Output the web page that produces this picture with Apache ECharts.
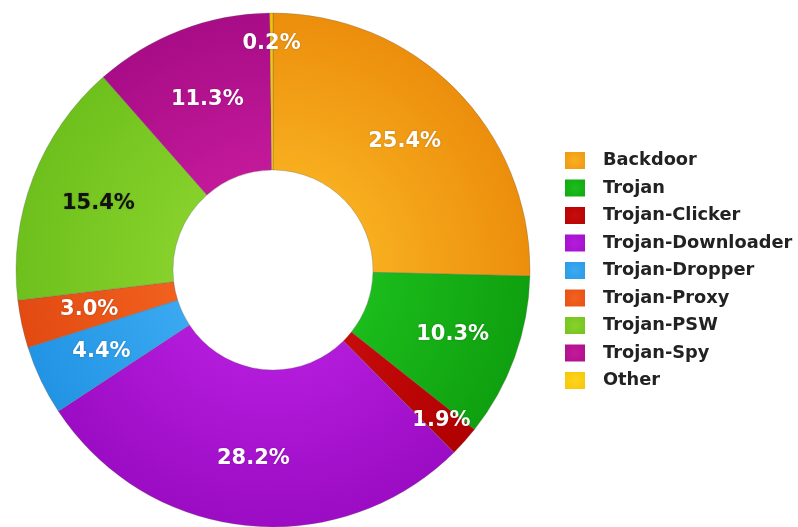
<!DOCTYPE html>
<html>
<head>
<meta charset="utf-8">
<script src="https://cdn.jsdelivr.net/npm/echarts@6/dist/echarts.min.js"></script>
<style>
  html, body { margin: 0; padding: 0; background: #ffffff; }
  #chart { width: 798px; height: 527px; }
</style>
</head>
<body>
<div id="chart"></div>
<script>
// Share of malicious program families (%)
const categories = ['Backdoor', 'Trojan', 'Trojan-Clicker', 'Trojan-Downloader',
  'Trojan-Dropper', 'Trojan-Proxy', 'Trojan-PSW', 'Trojan-Spy', 'Other'];
const shares = [25.4, 10.3, 1.9, 28.2, 4.4, 3.0, 15.4, 11.3, 0.2];

// Slice fills: lighter tone toward the hole, deeper tone at the rim
const lightColors = ['#f8b020', '#1cbe1c', '#c80c0c', '#b41cdc', '#3caaf2', '#f2621e', '#88d22c', '#c41a9c', '#ffd41c'];
const midColors   = ['#f09a12', '#12aa12', '#b80404', '#a412cc', '#2c9ce8', '#e85218', '#76c420', '#b0108c', '#f6c80a'];
const darkColors  = ['#ec8e0c', '#0fa00f', '#b00000', '#9c0cc4', '#2294e4', '#e24a12', '#6ec01c', '#a80c86', '#f2c200'];
const labelColors = ['#ffffff', '#ffffff', '#ffffff', '#ffffff', '#ffffff', '#ffffff', '#111111', '#ffffff', '#ffffff'];
// Distance of each value label from the centre
const labelRadius = [184, 191, 226, 190, 190, 188, 187, 183, 226];

const chart = echarts.init(document.getElementById('chart'), null, { renderer: 'canvas' });

const cx = 273, cy = 270, rOuter = 257, rInner = 100;

const data = categories.map((name, i) => ({
  name: name,
  value: shares[i],
  itemStyle: {
    color: {
      type: 'radial', x: cx, y: cy, r: rOuter, global: true,
      colorStops: [
        { offset: 0.35, color: lightColors[i] },
        { offset: 1, color: darkColors[i] }
      ]
    }
  },
  label: { color: labelColors[i] }
}));

const legendData = categories.map((name, i) => ({
  name: name,
  itemStyle: {
    color: {
      type: 'radial', x: 0.5, y: 0.5, r: 0.7,
      colorStops: [
        { offset: 0, color: lightColors[i] },
        { offset: 1, color: midColors[i] }
      ]
    },
    borderWidth: 0
  }
}));

chart.setOption({
  backgroundColor: '#ffffff',
  animation: false,
  legend: {
    orient: 'vertical',
    left: 565,
    top: 151.5,
    padding: 0,
    itemWidth: 20,
    itemHeight: 17,
    itemGap: 9.5,
    icon: 'rect',
    data: legendData,
    textStyle: {
      fontFamily: 'DejaVu Sans',
      fontWeight: 'bold',
      fontSize: 17.8,
      color: '#222222',
      padding: [0, 0, 0, 13]
    }
  },
  series: [{
    type: 'pie',
    center: [cx, cy],
    radius: [rInner, rOuter],
    startAngle: 90,
    clockwise: true,
    avoidLabelOverlap: false,
    itemStyle: {
      borderColor: 'rgba(90,90,90,0.35)',
      borderWidth: 0.8
    },
    label: {
      show: true,
      position: 'inside',
      formatter: p => p.value.toFixed(1) + '%',
      fontFamily: 'DejaVu Sans',
      fontWeight: 'bold',
      fontSize: 21,
      textShadowColor: 'rgba(0,0,0,0.25)',
      textShadowBlur: 2
    },
    labelLine: { show: false },
    emphasis: { disabled: true },
    labelLayout: function (params) {
      const r = params.labelRect;
      const lx = r.x + r.width / 2;
      const ly = r.y + r.height / 2;
      const a = Math.atan2(ly - cy, lx - cx);
      const d = labelRadius[params.dataIndex];
      return {
        x: cx + d * Math.cos(a),
        y: cy + d * Math.sin(a),
        align: 'center',
        verticalAlign: 'middle'
      };
    },
    data: data
  }]
});
</script>
</body>
</html>
